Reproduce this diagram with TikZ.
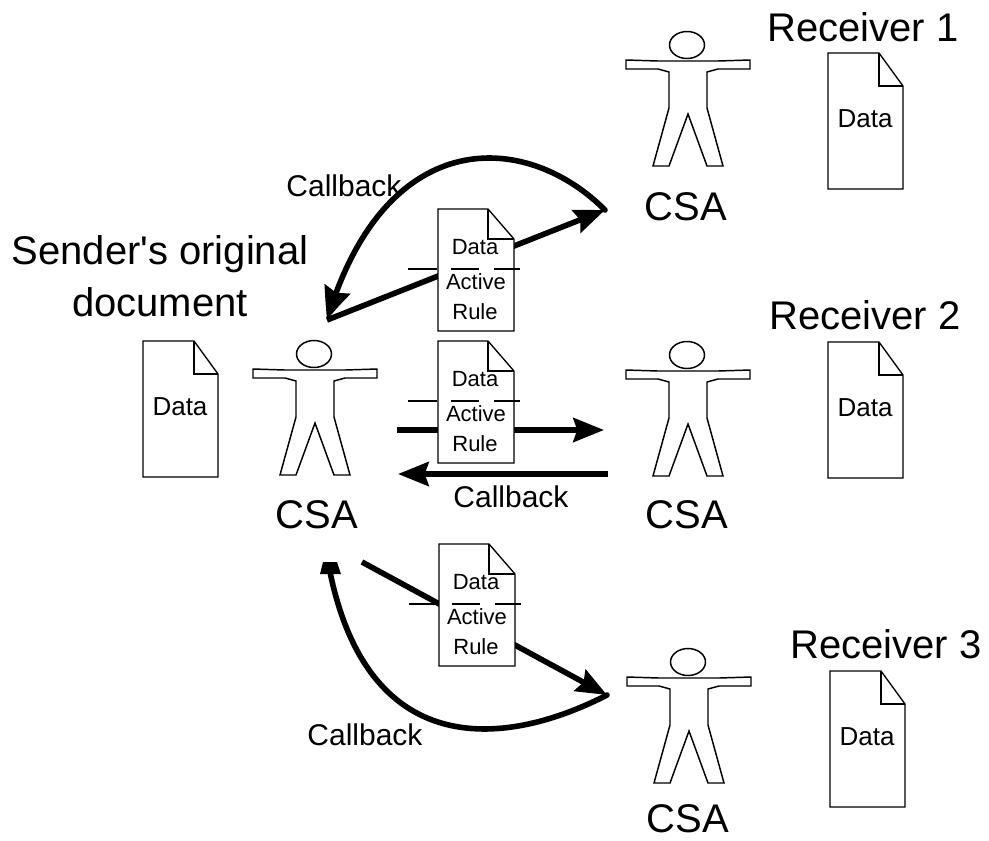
\documentclass[tikz,border=0pt]{standalone}
\usepackage{fontspec}
\setmainfont{Liberation Sans}
\usetikzlibrary{arrows.meta,bending}
\tikzset{
  x=0.75pt,y=-0.75pt,
  outline/.style={draw=black,line width=1.1pt,fill=white,line join=miter},
  thin outline/.style={draw=black,line width=1pt,fill=white},
  big label/.style={inner sep=0pt,font=\fontsize{30}{39}\selectfont,align=center},
  csa label/.style={inner sep=0pt,font=\fontsize{30}{36}\selectfont},
  cb label/.style={inner sep=0pt,font=\fontsize{22.5}{27}\selectfont},
  data label/.style={inner sep=0pt,font=\fontsize{19.5}{23}\selectfont},
  small label/.style={inner sep=0pt,font=\fontsize{16.5}{20}\selectfont},
  conn/.style={draw=black,line width=4.2pt,-{Stealth[length=23pt,width=18pt,inset=3pt]}},
  arc conn/.style={draw=black,line width=4.2pt,line cap=round,-{Stealth[length=25pt,width=20pt,inset=3pt,bend]}},
  plain arc/.style={draw=black,line width=4.2pt,line cap=round},
  pics/person/.style={code={
    \draw[outline] (0,-1) ellipse (17.5 and 13.5);
    \draw[outline] (-61,14)--(-29,15)--(31,15)--(63,14)--(63,23)--(31,23)--(20,26)--(20,62)--(36,120)--(20,120)--(1,68)--(-18,120)--(-34,120)--(-18,62)--(-18,26)--(-29,23)--(-61,23)--cycle;
  }},
  pics/datadoc/.style={code={
    \draw[thin outline] (0,0)--(51,0)--(75,33)--(75,136)--(0,136)--cycle;
    \draw[draw=black,line width=1pt] (51,0)--(51,33)--(75,33);
    \node[data label] (-txt) at (37,66) {Data};
  }},
  pics/activedoc/.style={code={
    \draw[thin outline] (0,0)--(50,0)--(76,30)--(76,122)--(0,122)--cycle;
    \draw[draw=black,line width=1pt] (50,0)--(50,30)--(76,30);
    \draw[draw=black,line width=0.8pt] (-30,60)--(-1,60) (13,60)--(41,60) (56,60)--(82,60);
    \node[small label] (-a) at (37,38) {Data};
    \node[small label] (-b) at (38,73) {Active};
    \node[small label] (-c) at (37,103) {Rule};
  }},
}
\begin{document}
\begin{tikzpicture}
\useasboundingbox[clip] (0,0) rectangle (989,840);
% named connector end points
\coordinate (topS) at (327,320);
\coordinate (topR) at (605,210);
\coordinate (midSout) at (397,430);
\coordinate (midRin) at (604,430);
\coordinate (midRout) at (608,474);
\coordinate (midSin) at (398,474);
\coordinate (botSout) at (362,562);
\coordinate (botR) at (607,695);
\coordinate (botSin) at (330,572);
% straight arrows behind the documents
\draw[conn] (topS) -- (topR);
\draw[conn] (midSout) -- (midRin);
\draw[conn] (midRout) -- (midSin);
\draw[conn] (botSout) -- (botR);
% callback arcs
\draw[arc conn] (topR) .. controls (525,130) and (385,125) .. (topS);
\draw[plain arc] (botR) .. controls (510,745) and (370,765) .. (botSin);
\fill[black] (320,574)--(341,574)--(337,562)--(323,562)--cycle;
% documents
\pic (d0) at (143,341) {datadoc};
\pic (d1) at (828,53) {datadoc};
\pic (d2) at (828,342) {datadoc};
\pic (d3) at (830,671) {datadoc};
\pic (a1) at (438,209) {activedoc};
\pic (a2) at (438,341) {activedoc};
\pic (a3) at (439,544) {activedoc};
% people
\pic (p0) at (314,355) {person};
\pic (p1) at (687,46) {person};
\pic (p2) at (687,356) {person};
\pic (p3) at (688,663) {person};
% labels
\node[csa label] (c0) at (317,515) {CSA};
\node[csa label] (c1) at (686,207) {CSA};
\node[csa label] (c2) at (687,515) {CSA};
\node[csa label] (c3) at (688,819) {CSA};
\node[big label] (r1) at (863,27) {Receiver 1};
\node[big label] (r2) at (865,315) {Receiver 2};
\node[big label] (r3) at (886,644) {Receiver 3};
\node[big label] (sender) at (160,276) {Sender\textquotesingle s original\\document};
\node[cb label] (cb1) at (344,186) {Callback};
\node[cb label] (cb2) at (511,497) {Callback};
\node[cb label] (cb3) at (365,735) {Callback};
\end{tikzpicture}
\end{document}
